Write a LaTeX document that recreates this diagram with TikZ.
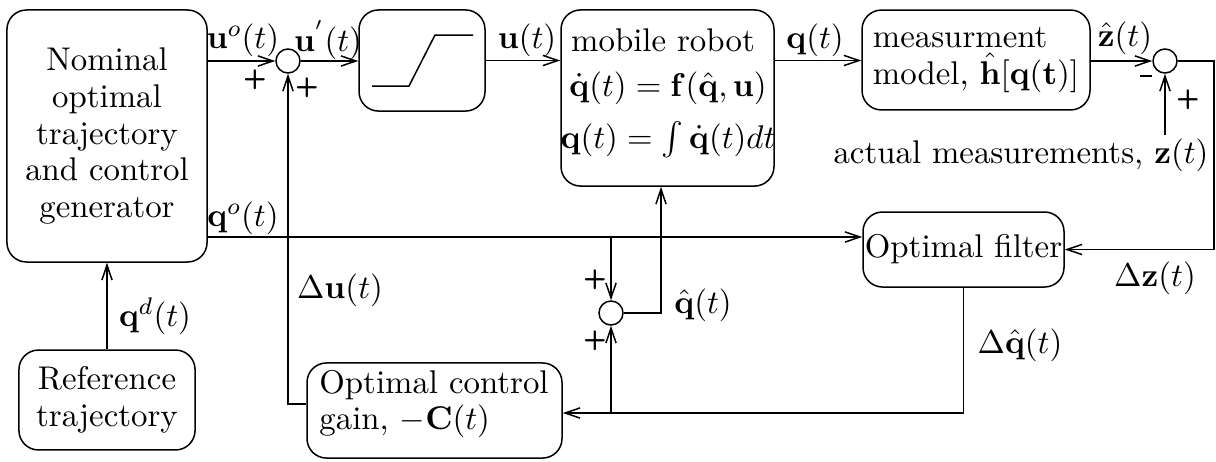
\documentclass[tikz,border=0pt]{standalone}
\usepackage{amsmath,amssymb}
\usetikzlibrary{arrows.meta,calc}
\begin{document}
\begin{tikzpicture}[x=0.33333pt,y=-0.33333pt,
  font=\fontsize{10.95}{12.2}\selectfont,
  line width=0.5pt,
  blk/.style={draw,rounded corners=6.5pt,inner sep=0pt},
  sumc/.style={draw,circle,minimum size=8pt,inner sep=0pt},
  arr/.style={-{Straight Barb[length=5pt,width=3.4pt]}},
  lbl/.style={inner sep=0pt},
  sgn/.style={inner sep=0pt,font=\fontsize{9}{10}\selectfont\sffamily\bfseries}]
\useasboundingbox (0,0) rectangle (1216,461);
% blocks
\node[blk,minimum width=66.7pt,minimum height=84pt,align=center] (nom) at (107,136)
  {Nominal\\optimal\\trajectory\\and control\\generator};
\node[blk,minimum width=58.7pt,minimum height=33.3pt,align=center] (ref) at (107,400)
  {Reference\\trajectory};
\node[blk,minimum width=42pt,minimum height=33.7pt] (sat) at (422,60.5) {};
\node[blk,minimum width=71pt,minimum height=58.7pt] (rob) at (667.5,98) {};
\node[blk,minimum width=76pt,minimum height=33.3pt] (meas) at (976,60) {};
\node[blk,minimum width=67pt,minimum height=25pt] (filt) at (963.5,249.5) {Optimal filter};
\node[blk,minimum width=85pt,minimum height=31.7pt] (gain) at (434.5,410.5) {};
% block texts
\node[lbl] (robt1) at (663,40) {mobile robot};
\node[lbl] (robt2) at (668,88) {$\dot{\mathbf{q}}(t)=\mathbf{f}(\hat{\mathbf{q}},\mathbf{u})$};
\node[lbl] (robt3) at (668,140) {$\mathbf{q}(t)=\int\dot{\mathbf{q}}(t)dt$};
\node[lbl,align=left] (meast) at (976,60) {measurment\\model, $\hat{\mathbf{h}}[\mathbf{q}(\mathbf{t})]$};
\node[lbl,align=left] (gaint) at (434,404) {Optimal control\\gain, $-\mathbf{C}(t)$};
% saturation curve
\draw (372,86) -- (409,86) -- (435,35) -- (473,35);
% sums
\node[sumc] (s1) at (288,61) {};
\node[sumc] (s2) at (1165,61) {};
\node[sumc] (s3) at (611,313) {};
% coordinates
\coordinate (qo) at (0,237);
\coordinate (bl) at (0,413);
\coordinate (du) at (0,404);
\coordinate (zt) at (1165,135);
\coordinate (rx) at (661,0);
% connectors
\draw[arr] (nom.east |- s1) -- (s1.west);
\draw[arr] (s1.east) -- (s1.east -| sat.west);
\draw[arr] (sat.east) -- (sat.east -| rob.west);
\draw[arr] (rob.east |- sat) -- (meas.west |- sat);
\draw[arr] (meas.east |- s2) -- (s2.west);
\draw[arr] (zt) -- (s2.south);
\draw[arr] (s2.east) -- ++(36,0) |- (filt.east);
\draw[arr] (filt.south) |- (gain.east |- bl);
\draw[arr] (s3 |- bl) -- (s3.south);
\draw[arr] (s3 |- qo) -- (s3.north);
\draw[arr] (s3.east) -| (rx |- rob.south);
\draw[arr] (nom.east |- qo) -- (filt.west |- qo);
\draw[arr] (gain.west |- du) -| (s1.south);
\draw[arr] (ref.north) -- (nom.south);
% labels
\node[lbl] (luo) at (243,40) {$\mathbf{u}^{o}(t)$};
\node[lbl] (lup) at (328,40) {$\mathbf{u}^{'}(t)$};
\node[lbl] (lu) at (527,40) {$\mathbf{u}(t)$};
\node[lbl] (lq) at (815,40) {$\mathbf{q}(t)$};
\node[lbl] (lzh) at (1125,38) {$\hat{\mathbf{z}}(t)$};
\node[lbl] (lam) at (1021,155) {actual measurements, $\mathbf{z}(t)$};
\node[lbl] (ldz) at (1155,278) {$\Delta\mathbf{z}(t)$};
\node[lbl] (ldq) at (1020,345) {$\Delta\hat{\mathbf{q}}(t)$};
\node[lbl] (lqh) at (703,305) {$\hat{\mathbf{q}}(t)$};
\node[lbl] (ldu) at (340,290) {$\Delta\mathbf{u}(t)$};
\node[lbl] (lqo) at (243,218) {$\mathbf{q}^{o}(t)$};
\node[lbl] (lqd) at (155,316) {$\mathbf{q}^{d}(t)$};
% signs
\node[sgn] (p1) at (255,80) {+};
\node[sgn] (p2) at (307,88) {+};
\node[sgn] (m1) at (1146,76) {\rule{4pt}{0.9pt}};
\node[sgn] (p3) at (1188,100) {+};
\node[sgn] (p4) at (595,280) {+};
\node[sgn] (p5) at (595,341) {+};
\end{tikzpicture}
\end{document}
